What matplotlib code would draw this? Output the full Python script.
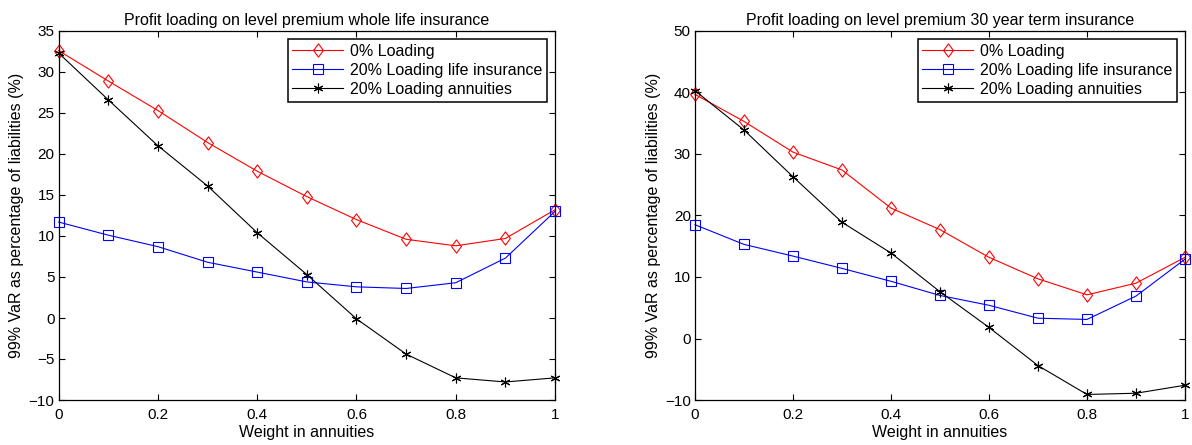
import matplotlib
matplotlib.use("Agg")
import matplotlib.pyplot as plt
from matplotlib.path import Path

plt.rcParams['font.family'] = ['Liberation Sans', 'DejaVu Sans']

weights = [0.0, 0.1, 0.2, 0.3, 0.4, 0.5, 0.6, 0.7, 0.8, 0.9, 1.0]

wl_zero = [32.6, 28.9, 25.3, 21.4, 17.9, 14.8, 12.0, 9.6, 8.8, 9.7, 13.2]
wl_life = [11.7, 10.1, 8.7, 6.8, 5.6, 4.4, 3.8, 3.6, 4.3, 7.3, 13.0]
wl_ann = [32.3, 26.6, 21.0, 16.1, 10.4, 5.3, -0.1, -4.4, -7.3, -7.8, -7.3]

term_zero = [39.7, 35.3, 30.3, 27.4, 21.2, 17.7, 13.2, 9.7, 7.1, 9.0, 13.2]
term_life = [18.5, 15.3, 13.4, 11.4, 9.3, 7.0, 5.4, 3.3, 3.1, 6.9, 12.9]
term_ann = [40.3, 33.9, 26.3, 18.9, 13.9, 7.6, 1.8, -4.4, -9.1, -8.9, -7.6]

labels = ['0% Loading', '20% Loading life insurance', '20% Loading annuities']
titles = ['Profit loading on level premium whole life insurance',
          'Profit loading on level premium 30 year term insurance']
xlabel = 'Weight in annuities'
ylabel = '99% VaR as percentage of liabilities (%)'

W, H = 1192, 445
fig = plt.figure(figsize=(W / 100, H / 100), dpi=100)
ax1 = fig.add_axes([58.7 / W, 1 - 400 / H, (555 - 58.7) / W, (400 - 31) / H])
ax2 = fig.add_axes([695 / W, 1 - 400 / H, (1185 - 695) / W, (400 - 31) / H])

asterisk = (6, 2, 0)
diamond = Path([(0, 1), (0.75, 0), (0, -1), (-0.75, 0), (0, 1)],
               [Path.MOVETO, Path.LINETO, Path.LINETO, Path.LINETO, Path.CLOSEPOLY])

def draw(ax, zero, life, ann, title, ylim, yticks):
    ax.plot(weights, zero, color='red', lw=0.8, marker=diamond, ms=9.5, mfc='none',
            mec='red', mew=0.8, label=labels[0], clip_on=False)
    ax.plot(weights, life, color='blue', lw=0.8, marker='s', ms=6.5, mfc='none',
            mec='blue', mew=0.8, label=labels[1], clip_on=False)
    ax.plot(weights, ann, color='black', lw=0.8, marker=asterisk, ms=7,
            mec='black', mew=0.8, label=labels[2], clip_on=False)
    ax.set_xlim(0, 1)
    ax.set_ylim(*ylim)
    ax.set_yticks(yticks)
    ax.set_xticks([0, 0.2, 0.4, 0.6, 0.8, 1])
    ax.set_xticklabels(['0', '0.2', '0.4', '0.6', '0.8', '1'])
    ax.set_yticklabels([str(t).replace('-', '\u2212') for t in yticks])
    ax.tick_params(direction='in', top=True, right=True, length=4, width=0.8,
                   labelsize=11)
    ax.tick_params(axis='x', pad=6)
    ax.tick_params(axis='y', pad=3)
    for s in ax.spines.values():
        s.set_linewidth(0.9)
    ax.set_title(title, fontsize=11.5, pad=4.5)
    ax.set_xlabel(xlabel, fontsize=11.5, labelpad=2)
    ax.set_ylabel(ylabel, fontsize=11.5, labelpad=3)
    leg = ax.legend(loc='upper right', fontsize=11.5, fancybox=False,
                    framealpha=1, edgecolor='black', borderaxespad=0.5,
                    handlelength=3.2, handletextpad=0.4, labelspacing=0.25,
                    borderpad=0.3)
    leg.get_frame().set_linewidth(1.1)

draw(ax1, wl_zero, wl_life, wl_ann, titles[0], (-10, 35),
     [-10, -5, 0, 5, 10, 15, 20, 25, 30, 35])
draw(ax2, term_zero, term_life, term_ann, titles[1], (-10, 50),
     [-10, 0, 10, 20, 30, 40, 50])

fig.savefig('out.png', dpi=100)
